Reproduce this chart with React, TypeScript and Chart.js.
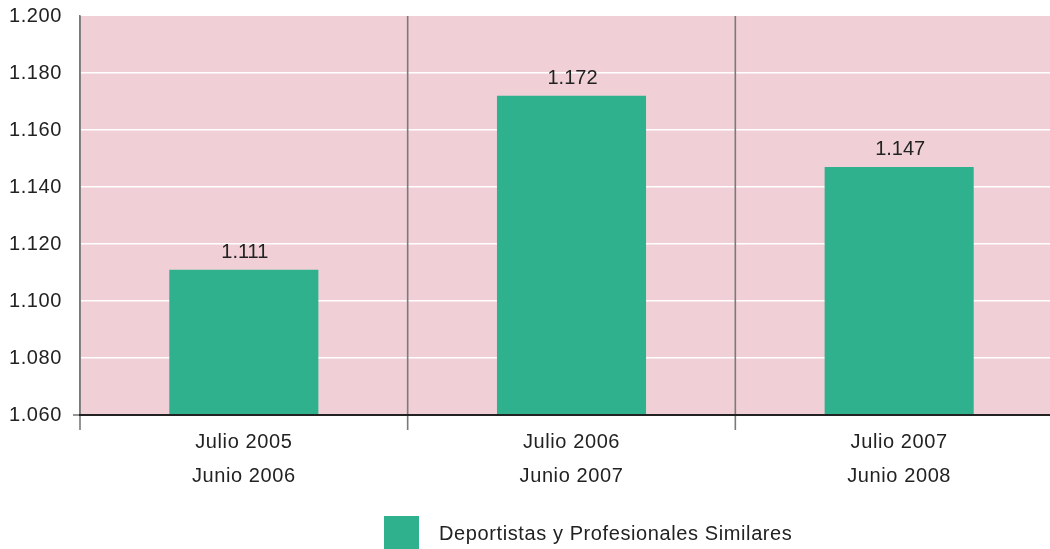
import React, { useEffect, useRef } from "react";
import { Chart, registerables } from "chart.js";

Chart.register(...registerables);

const categories: string[][] = [
  ["Julio 2005", "Junio 2006"],
  ["Julio 2006", "Junio 2007"],
  ["Julio 2007", "Junio 2008"],
];
const seriesName = "Deportistas y Profesionales Similares";
const values: number[] = [1111, 1172, 1147];
const yMin = 1060;
const yMax = 1200;
const yStep = 20;

const FONT = "'Liberation Sans', Arial, Helvetica, sans-serif";
const TEXT = "#222222";
const PINK = "#f0d0d6";
const TEAL = "#2fb18e";
const GRAY = "#7a7a7a";
const FS = 20;

const fmt = (v: number) => (v / 1000).toFixed(3);

const decorPlugin = {
  id: "decor",
  beforeDraw(chart: any) {
    const { ctx, chartArea } = chart;
    ctx.save();
    ctx.fillStyle = PINK;
    ctx.fillRect(chartArea.left, chartArea.top, chartArea.right - chartArea.left, chartArea.bottom - chartArea.top);
    ctx.restore();
    (ctx as any).letterSpacing = "0.6px";
  },
  afterDatasetsDraw(chart: any) {
    const { ctx, chartArea } = chart;
    const n = categories.length;
    const w = (chartArea.right - chartArea.left) / n;
    ctx.save();
    ctx.strokeStyle = GRAY;
    ctx.lineWidth = 1.6;
    for (let i = 0; i < n; i++) {
      const px = chartArea.left + i * w;
      ctx.beginPath();
      ctx.moveTo(px, chartArea.top);
      ctx.lineTo(px, chartArea.bottom + 15);
      ctx.stroke();
    }
    ctx.beginPath();
    ctx.moveTo(chartArea.left - 7, chartArea.bottom);
    ctx.lineTo(chartArea.left, chartArea.bottom);
    ctx.stroke();
    ctx.strokeStyle = TEXT;
    ctx.lineWidth = 2;
    ctx.beginPath();
    ctx.moveTo(chartArea.left - 1, chartArea.bottom);
    ctx.lineTo(chartArea.right, chartArea.bottom);
    ctx.stroke();
    const meta = chart.getDatasetMeta(0);
    ctx.fillStyle = TEXT;
    ctx.font = `${FS}px ${FONT}`;
    ctx.textAlign = "center";
    ctx.textBaseline = "alphabetic";
    (ctx as any).letterSpacing = "0px";
    meta.data.forEach((bar: any, i: number) => {
      ctx.fillText(fmt(values[i]), bar.x + 1, bar.y - 12);
    });
    (ctx as any).letterSpacing = "0.6px";
    ctx.fillStyle = TEAL;
    ctx.fillRect(384, 516, 35, 34);
    ctx.fillStyle = TEXT;
    ctx.textAlign = "left";
    ctx.textBaseline = "middle";
    ctx.fillText(seriesName, 439, 534);
    ctx.restore();
  },
};

export default function App() {
  const ref = useRef<HTMLCanvasElement | null>(null);
  useEffect(() => {
    const canvas = ref.current!;
    const chart = new Chart(canvas, {
      type: "bar",
      data: {
        labels: categories,
        datasets: [
          {
            label: seriesName,
            data: values,
            backgroundColor: TEAL,
            borderWidth: 0,
            barPercentage: 0.455,
            categoryPercentage: 1,
          },
        ],
      },
      options: {
        responsive: false,
        animation: false,
        devicePixelRatio: 1,
        layout: { padding: { top: 16, right: 0, left: 0, bottom: 54 } },
        plugins: {
          legend: { display: false },
          tooltip: { enabled: false },
        },
        scales: {
          x: {
            grid: { display: false, drawTicks: false },
            border: { display: false },
            afterFit: (s: any) => {
              s.height = 80;
            },
            ticks: {
              padding: 10,
              color: TEXT,
              font: { family: FONT, size: FS, lineHeight: 34 / FS },
              maxRotation: 0,
            },
          },
          y: {
            min: yMin,
            max: yMax,
            afterFit: (s: any) => {
              s.width = 80;
              s.paddingTop = 0;
              s.paddingBottom = 0;
            },
            grid: {
              drawTicks: false,
              lineWidth: 1.5,
              color: (c: any) =>
                c.tick && (c.tick.value === yMin || c.tick.value === yMax) ? "rgba(0,0,0,0)" : "#ffffff",
            },
            border: { display: true, color: GRAY, width: 1.6 },
            ticks: {
              stepSize: yStep,
              padding: 18,
              color: TEXT,
              font: { family: FONT, size: FS },
              callback: (v: any) => fmt(Number(v)),
            },
          },
        },
      },
      plugins: [decorPlugin],
    });
    return () => chart.destroy();
  }, []);
  return (
    <div
      style={{
        position: "fixed",
        left: 0,
        top: 0,
        width: 1050,
        height: 549,
        overflow: "hidden",
        background: "#fff",
      }}
    >
      <canvas ref={ref} width={1063} height={549} style={{ display: "block", width: 1063, height: 549 }} />
    </div>
  );
}
